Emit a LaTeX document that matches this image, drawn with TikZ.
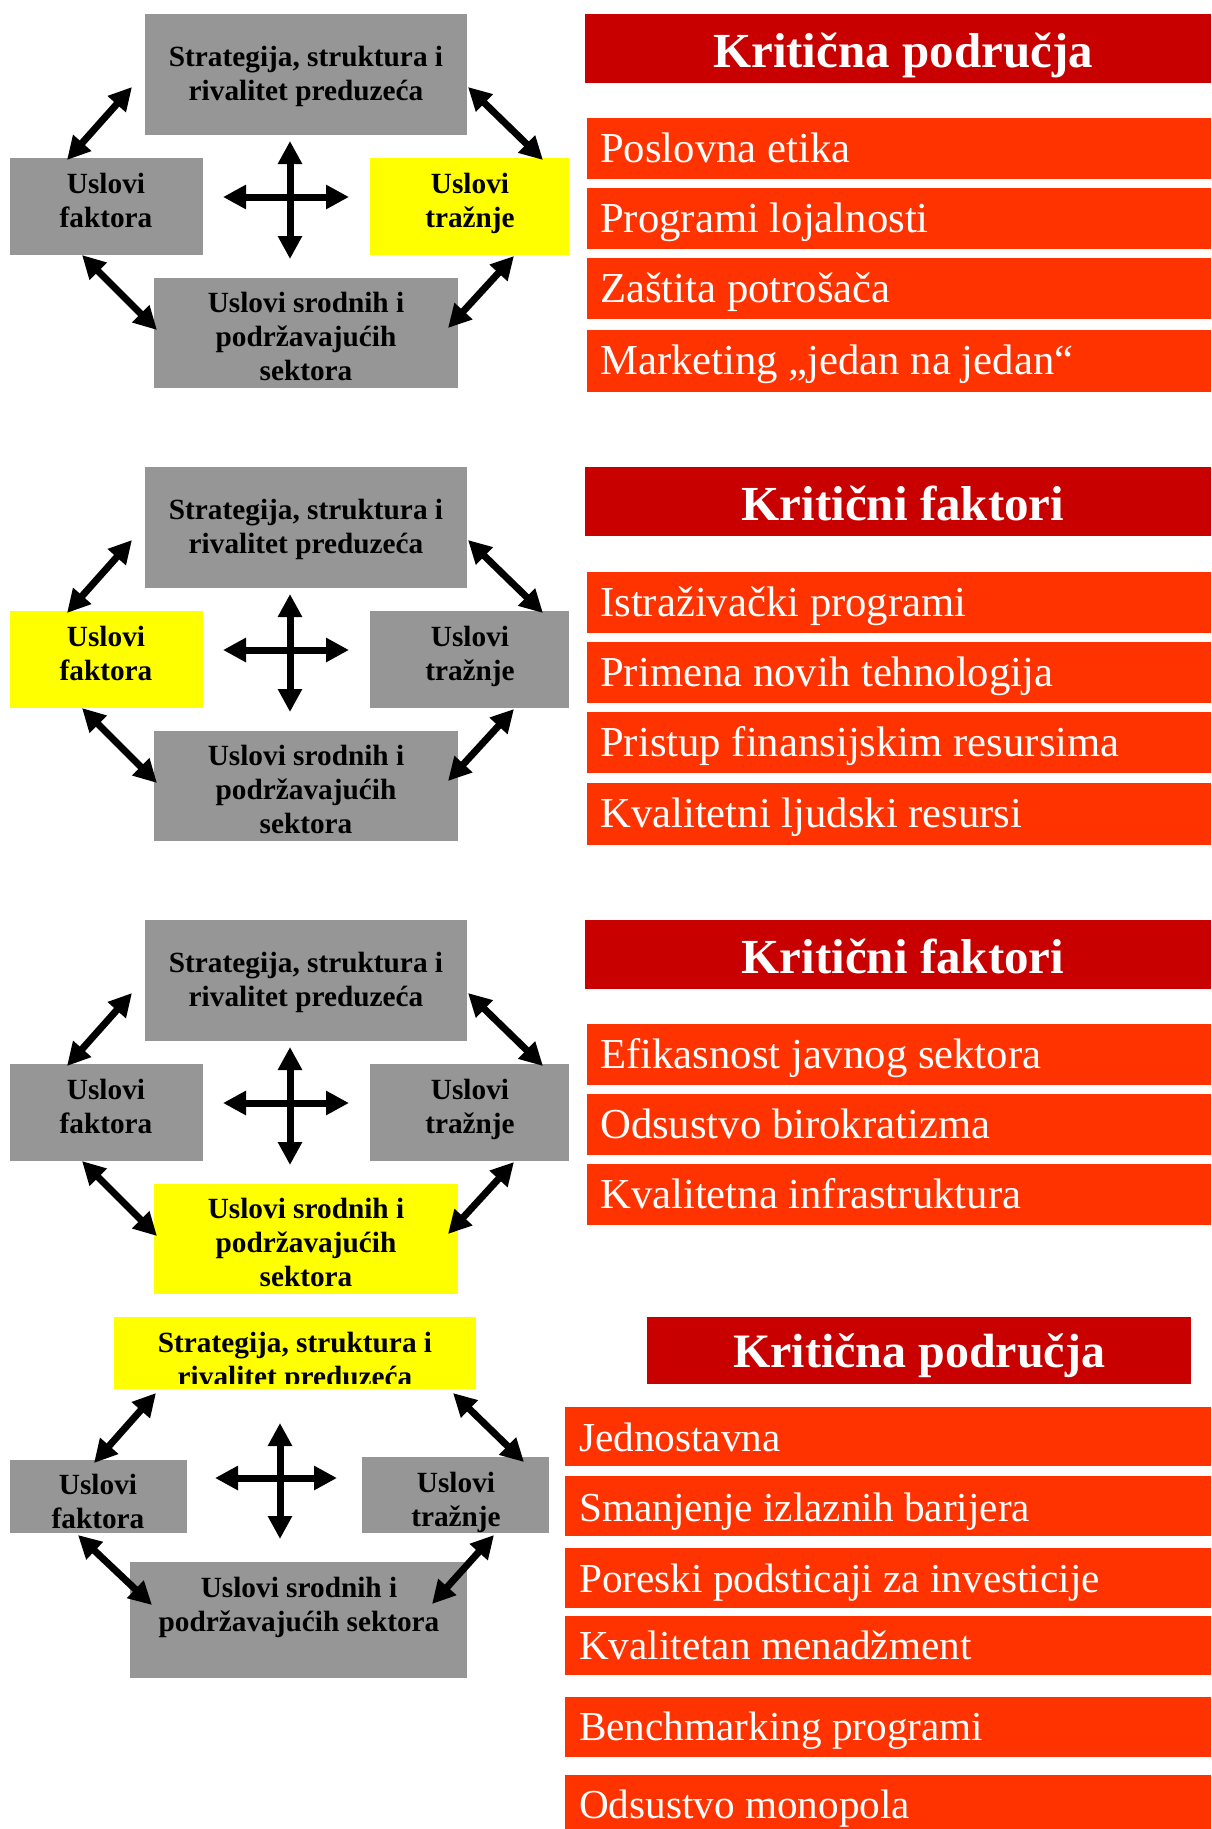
\documentclass[tikz,border=0pt]{standalone}
\usepackage{fontspec}
\setmainfont{Liberation Serif}
\usetikzlibrary{arrows.meta}
\definecolor{boxgray}{RGB}{150,150,150}
\definecolor{hiyellow}{RGB}{255,255,0}
\definecolor{headred}{RGB}{200,0,0}
\definecolor{itemred}{RGB}{255,51,0}
\tikzset{
  pbox/.style={draw=none, inner sep=0pt, outer sep=0pt, rectangle},
  btext/.style={anchor=base, inner sep=0pt, font=\bfseries\fontsize{29.3}{34}\selectfont},
  dblarr/.style={line width=7pt, {Triangle[length=23pt,width=23pt]}-{Triangle[length=23pt,width=23pt]}},
  headbox/.style={fill=headred, draw=none, inner sep=0pt, rectangle},
  headtext/.style={anchor=base, inner sep=0pt, text=white, font=\bfseries\fontsize{49}{55}\selectfont},
  itembox/.style={fill=itemred, draw=none, inner sep=0pt, anchor=north west, rectangle},
  itemtext/.style={anchor=base west, inner sep=0pt, text=white, font=\fontsize{42.7}{48}\selectfont},
  itemtextd/.style={itemtext, font=\fontsize{41.2}{48}\selectfont},
}
% #1 suffix, #2 y offset, #3 top, #4 left, #5 right, #6 bottom colours
\newcommand\porterdiag[6]{%
  \begin{scope}[yshift=-#2pt]
    \node[pbox,fill=#3,minimum width=322pt,minimum height=121pt] (str#1) at (306,74.5) {};
    \node[pbox,fill=#4,minimum width=193pt,minimum height=97pt] (fak#1) at (106.5,206.5) {};
    \node[pbox,fill=#5,minimum width=199pt,minimum height=97pt] (tra#1) at (469.5,206.5) {};
    \node[pbox,fill=#6,minimum width=304pt,minimum height=110pt] (sro#1) at (306,333) {};
    \node[btext] (strt#1) at (306,66) {\parbox[t]{310pt}{\centering Strategija, struktura i\\rivalitet preduzeća}};
    \node[btext] (fakt#1) at (106,193) {\parbox[t]{190pt}{\centering Uslovi\\faktora}};
    \node[btext] (trat#1) at (470,193) {\parbox[t]{190pt}{\centering Uslovi\\tražnje}};
    \node[btext] (srot#1) at (306,312) {\parbox[t]{300pt}{\centering Uslovi srodnih i\\podržavajućih\\sektora}};
    \coordinate (cn#1) at (290,141); \coordinate (cs#1) at (290,259);
    \coordinate (cw#1) at (223,197); \coordinate (ce#1) at (349,197);
    \draw[dblarr] (cn#1) -- (cs#1);
    \draw[dblarr] (cw#1) -- (ce#1);
    \coordinate (tla#1) at (132,87);  \coordinate (tlb#1) at (67,160);
    \coordinate (tra#1x) at (468,87); \coordinate (trb#1) at (543,160);
    \coordinate (bla#1) at (82,255);  \coordinate (blb#1) at (157,330);
    \coordinate (bra#1) at (514,256); \coordinate (brb#1) at (448,328);
    \draw[dblarr] (tla#1) -- (tlb#1);
    \draw[dblarr] (tra#1x) -- (trb#1);
    \draw[dblarr] (bla#1) -- (blb#1);
    \draw[dblarr] (bra#1) -- (brb#1);
  \end{scope}}
% #1 name, #2 x left, #3 top, #4 width, #5 height, #6 baseline, #7 text x, #8 text
\newcommand\kitem[8]{%
  \node[itembox,minimum width=#4pt,minimum height=#5pt] (#1) at (#2,#3) {};
  \node[itemtext] (#1t) at (#7,#6) {#8};}
\newcommand\kitemd[8]{%
  \node[itembox,minimum width=#4pt,minimum height=#5pt] (#1) at (#2,#3) {};
  \node[itemtextd] (#1t) at (#7,#6) {#8};}
\begin{document}
\begin{tikzpicture}[x=1pt,y=-1pt]
\useasboundingbox[fill=white] (0,0) rectangle (1211,1829);

% ---------- Panel 1 ----------
\porterdiag{a}{0}{boxgray}{boxgray}{hiyellow}{boxgray}
\node[headbox,minimum width=626pt,minimum height=69pt] (h1) at (898,48.5) {};
\node[headtext] (h1t) at (903,67) {Kritična područja};
\kitem{i11}{587}{118}{624}{61}{162}{600}{Poslovna etika}
\kitem{i12}{587}{188}{624}{61}{232}{600}{Programi lojalnosti}
\kitem{i13}{587}{258}{624}{61}{302}{600}{Zaštita potrošača}
\kitem{i14}{587}{330}{624}{62}{374}{600}{Marketing „jedan na jedan“}

% ---------- Panel 2 ----------
\porterdiag{b}{453}{boxgray}{hiyellow}{boxgray}{boxgray}
\node[headbox,minimum width=626pt,minimum height=69pt] (h2) at (898,501.5) {};
\node[headtext] (h2t) at (903,520) {Kritični faktori};
\kitem{i21}{587}{572}{624}{61}{616}{600}{Istraživački programi}
\kitem{i22}{587}{642}{624}{61}{686}{600}{Primena novih tehnologija}
\kitem{i23}{587}{712}{624}{61}{756}{600}{Pristup finansijskim resursima}
\kitem{i24}{587}{783}{624}{62}{827}{600}{Kvalitetni ljudski resursi}

% ---------- Panel 3 ----------
\porterdiag{c}{906}{boxgray}{boxgray}{boxgray}{hiyellow}
\node[headbox,minimum width=626pt,minimum height=69pt] (h3) at (898,954.5) {};
\node[headtext] (h3t) at (903,973) {Kritični faktori};
\kitem{i31}{587}{1024}{624}{61}{1068}{600}{Efikasnost javnog sektora}
\kitem{i32}{587}{1094}{624}{61}{1138}{600}{Odsustvo birokratizma}
\kitem{i33}{587}{1164}{624}{61}{1208}{600}{Kvalitetna infrastruktura}

% ---------- Panel 4 ----------
\node[pbox,fill=hiyellow,minimum width=362pt,minimum height=72pt] (strd) at (295,1353) {};
\begin{scope}
  \clip (114,1317) rectangle (476,1383);
  \node[btext] (strtd) at (295,1352) {\parbox[t]{350pt}{\centering Strategija, struktura i\\rivalitet preduzeća}};
\end{scope}
\node[pbox,fill=boxgray,minimum width=177pt,minimum height=73pt] (fakd) at (98.5,1496.5) {};
\node[btext] (faktd) at (98,1494) {\parbox[t]{170pt}{\centering Uslovi\\faktora}};
\node[pbox,fill=boxgray,minimum width=187pt,minimum height=76pt] (trad) at (455.5,1495) {};
\begin{scope}
  \clip (362,1457) rectangle (549,1533);
  \node[btext] (tratd) at (456,1492) {\parbox[t]{180pt}{\centering Uslovi\\tražnje}};
\end{scope}
\node[pbox,fill=boxgray,minimum width=337pt,minimum height=116pt] (srod) at (298.5,1620) {};
\node[btext] (srotd) at (299,1597) {\parbox[t]{330pt}{\centering Uslovi srodnih i\\podržavajućih sektora}};
\coordinate (cnd) at (280,1423); \coordinate (csd) at (280,1539);
\coordinate (cwd) at (215,1478); \coordinate (ced) at (337,1478);
\draw[dblarr] (cnd) -- (csd);
\draw[dblarr] (cwd) -- (ced);
\coordinate (tlad) at (156,1393); \coordinate (tlbd) at (94,1463);
\coordinate (trad2) at (453,1393); \coordinate (trbd) at (524,1462);
\coordinate (blad) at (78,1535);  \coordinate (blbd) at (152,1605);
\coordinate (brad) at (494,1535); \coordinate (brbd) at (432,1604);
\draw[dblarr] (tlad) -- (tlbd);
\draw[dblarr] (trad2) -- (trbd);
\draw[dblarr] (blad) -- (blbd);
\draw[dblarr] (brad) -- (brbd);

\node[headbox,minimum width=544pt,minimum height=67pt] (h4) at (919,1350.5) {};
\node[headtext,font=\bfseries\fontsize{48}{54}\selectfont] (h4t) at (919,1367.5) {Kritična područja};
\kitemd{i41}{565}{1407}{646}{59}{1451}{579}{Jednostavna}
\kitemd{i42}{565}{1476}{646}{59.5}{1521}{579}{Smanjenje izlaznih barijera}
\kitemd{i43}{565}{1548}{646}{60}{1592}{579}{Poreski podsticaji za investicije}
\kitemd{i44}{565}{1615.5}{646}{59}{1659}{579}{Kvalitetan menadžment}
\kitemd{i45}{565}{1697}{646}{59.5}{1740}{579}{Benchmarking programi}
\kitemd{i46}{565}{1775}{646}{56}{1818}{579}{Odsustvo monopola}
\end{tikzpicture}
\end{document}
